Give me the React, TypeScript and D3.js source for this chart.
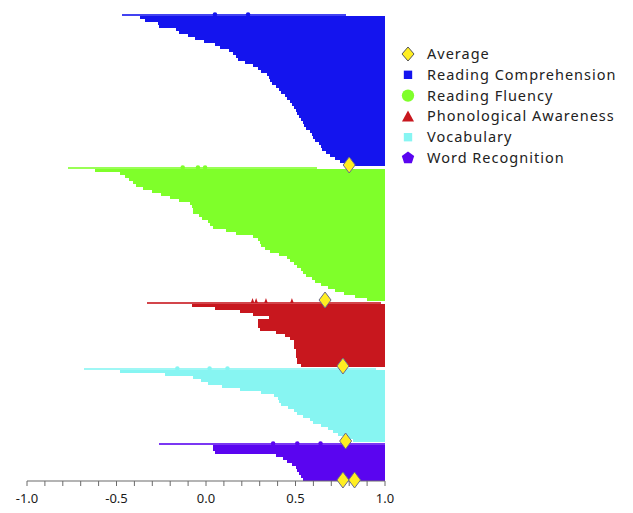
import * as d3 from "d3";

// start value of each row, top to bottom; rows run on to 1.0
const readingComprehension = [
  -0.47, -0.37, -0.34, -0.27, -0.26, -0.17, -0.15, -0.1, -0.06, -0.01, 0.05,
  0.08, 0.13, 0.15, 0.17, 0.18, 0.22, 0.26, 0.29, 0.31, 0.34, 0.35, 0.36, 0.37,
  0.39, 0.41, 0.42, 0.44, 0.45, 0.47, 0.48, 0.49, 0.5, 0.51, 0.52, 0.53, 0.54,
  0.55, 0.56, 0.58, 0.59, 0.6, 0.61, 0.63, 0.64, 0.65, 0.67, 0.69, 0.72, 0.75,
  0.77,
];
const readingFluency = [
  -0.77, -0.62, -0.48, -0.45, -0.43, -0.41, -0.39, -0.35, -0.3, -0.25, -0.2,
  -0.15, -0.09, -0.08, -0.07, -0.07, -0.04, -0.02, 0.01, 0.02, 0.04, 0.11, 0.17,
  0.26, 0.29, 0.3, 0.31, 0.33, 0.36, 0.41, 0.45, 0.47, 0.49, 0.51, 0.53, 0.54,
  0.56, 0.59, 0.61, 0.64, 0.68, 0.72, 0.77, 0.83, 0.9,
];
const phonologicalAwareness = [
  -0.33, -0.08, 0.05, 0.19, 0.26, 0.35, 0.29, 0.29, 0.29, 0.3, 0.39, 0.44, 0.47,
  0.49, 0.49, 0.49, 0.5, 0.5, 0.5, 0.51, 0.51, 0.53,
];
const vocabulary = [
  -0.68, -0.48, -0.23, -0.07, -0.03, 0.01, 0.09, 0.19, 0.31, 0.38, 0.4, 0.41,
  0.42, 0.46, 0.49, 0.51, 0.54, 0.58, 0.6, 0.64, 0.68, 0.71, 0.74, 0.78, 0.82,
];
const wordRecognition = [
  -0.26, 0.04, 0.04, 0.05, 0.39, 0.43, 0.45, 0.48, 0.5, 0.51, 0.52, 0.53, 0.54,
];

// where the thin first row of each group stops
const leadEnds = [0.78, 0.62, 0.98, 0.95, 1.0];
// markers peeking out above the first row
const markerValues = [
  [0.05, 0.235],
  [-0.13, -0.045, -0.005],
  [0.26, 0.28, 0.335, 0.48],
  [-0.16, 0.02, 0.12],
  [0.375, 0.51, 0.64],
];
const averages = [0.8, 0.665, 0.765, 0.78, 0.765];
const overallAverage = 0.83;

const seriesNames = [
  "Reading Comprehension",
  "Reading Fluency",
  "Phonological Awareness",
  "Vocabulary",
  "Word Recognition",
];
const seriesColors = ["#1414ee", "#7fff2a", "#c8171e", "#87f5f2", "#5a05f0"];
const seriesSymbols = [
  d3.symbolSquare,
  d3.symbolCircle,
  d3.symbolTriangle,
  d3.symbolSquare,
  d3.symbolTriangle,
];
const tickLabels = [-1.0, -0.5, 0.0, 0.5, 1.0];

const groups = [
  readingComprehension,
  readingFluency,
  phonologicalAwareness,
  vocabulary,
  wordRecognition,
];

const diamond = "M0,-8L6,0L0,8L-6,0Z";
const pentagon = (r: number) =>
  d3.range(5)
    .map((k) => {
      const a = -Math.PI / 2 + (k * 2 * Math.PI) / 5;
      return `${k ? "L" : "M"}${(r * Math.cos(a)).toFixed(2)},${(r * Math.sin(a)).toFixed(2)}`;
    })
    .join("") + "Z";

export default function App() {
  const W = 633;
  const H = 513;
  const x = d3.scaleLinear().domain([-1, 1]).range([27, 385]);
  const total = d3.sum(groups, (g) => g.length);
  const y = d3.scaleLinear().domain([0, total]).range([13, 481]);
  const rowH = y(1) - y(0);

  const offsets: number[] = [];
  groups.reduce((acc, g) => {
    offsets.push(acc);
    return acc + g.length;
  }, 0);

  const minorTicks = x.ticks(20);
  const axisY = y(total);
  const dot = d3.symbol().type(d3.symbolCircle).size(16)()!;

  return (
    <div style={{ position: "fixed", left: 0, top: 0, background: "#fff" }}>
      <svg width={W} height={H} style={{ display: "block" }} fontFamily="'Noto Sans', sans-serif">
        <rect width={W} height={H} fill="#fff" />
        {groups.map((g, gi) => {
          const color = seriesColors[gi];
          // thin lead line sits at the bottom of the first band
          const leadY = y(offsets[gi]) + rowH - 2;
          return (
            <g key={seriesNames[gi]}>
              {markerValues[gi].map((v, k) => (
                <path
                  key={k}
                  transform={`translate(${x(v)},${leadY + 0.5})`}
                  d={gi === 2 ? "M0,-4.5L1.8,0.5L-1.8,0.5Z" : dot}
                  fill={color}
                />
              ))}
              {g.map((v, i) => {
                const lead = i === 0;
                const end = lead ? leadEnds[gi] : 1;
                return (
                  <rect
                    key={i}
                    x={x(v)}
                    y={lead ? leadY : y(offsets[gi] + i)}
                    width={x(end) - x(v)}
                    height={lead ? 2 : rowH + 0.4}
                    fill={color}
                    opacity={lead ? 0.8 : 1}
                    shapeRendering="crispEdges"
                  />
                );
              })}
            </g>
          );
        })}

        {/* x axis */}
        <line x1={x(-1)} x2={x(1)} y1={axisY} y2={axisY} stroke="#6b6b6b" strokeWidth={1.2} />
        {minorTicks.map((t) => (
          <line key={t} x1={x(t)} x2={x(t)} y1={axisY} y2={axisY + 5} stroke="#6b6b6b" strokeWidth={1} />
        ))}
        {tickLabels.map((t) => (
          <text key={t} x={x(t)} y={axisY + 22} textAnchor="middle" fontSize={13} fill="#1a1a1a">
            {t.toFixed(1)}
          </text>
        ))}

        {/* averages */}
        {averages.map((a, gi) => (
          <path
            key={gi}
            d={diamond}
            transform={`translate(${x(a)},${y(offsets[gi] + groups[gi].length) - 1})`}
            fill="#ffee22"
            stroke="#6a6a8c"
            strokeWidth={1}
          />
        ))}
        <path
          d={diamond}
          transform={`translate(${x(overallAverage)},${axisY - 1})`}
          fill="#ffee22"
          stroke="#6a6a8c"
          strokeWidth={1}
        />

        {/* legend */}
        <g transform="translate(408,54)">
          <path d="M0,-7L6,0L0,7L-6,0Z" fill="#ffee22" stroke="#555" strokeWidth={1} />
          <text x={19} y={5} fontSize={14.5} letterSpacing={1} fill="#222">Average</text>
          {seriesNames.map((name, i) => {
            const sy = (i + 1) * 20.8;
            const d =
              i === 4
                ? pentagon(6.5)
                : i === 2
                  ? "M0,-6L6,5L-6,5Z"
                  : d3.symbol().type(seriesSymbols[i]).size(i === 1 ? 120 : 70)()!;
            return (
              <g key={name} transform={`translate(0,${sy})`}>
                <path d={d} fill={seriesColors[i]} />
                <text x={19} y={5} fontSize={14.5} letterSpacing={1} fill="#222">
                  {name}
                </text>
              </g>
            );
          })}
        </g>
      </svg>
    </div>
  );
}
